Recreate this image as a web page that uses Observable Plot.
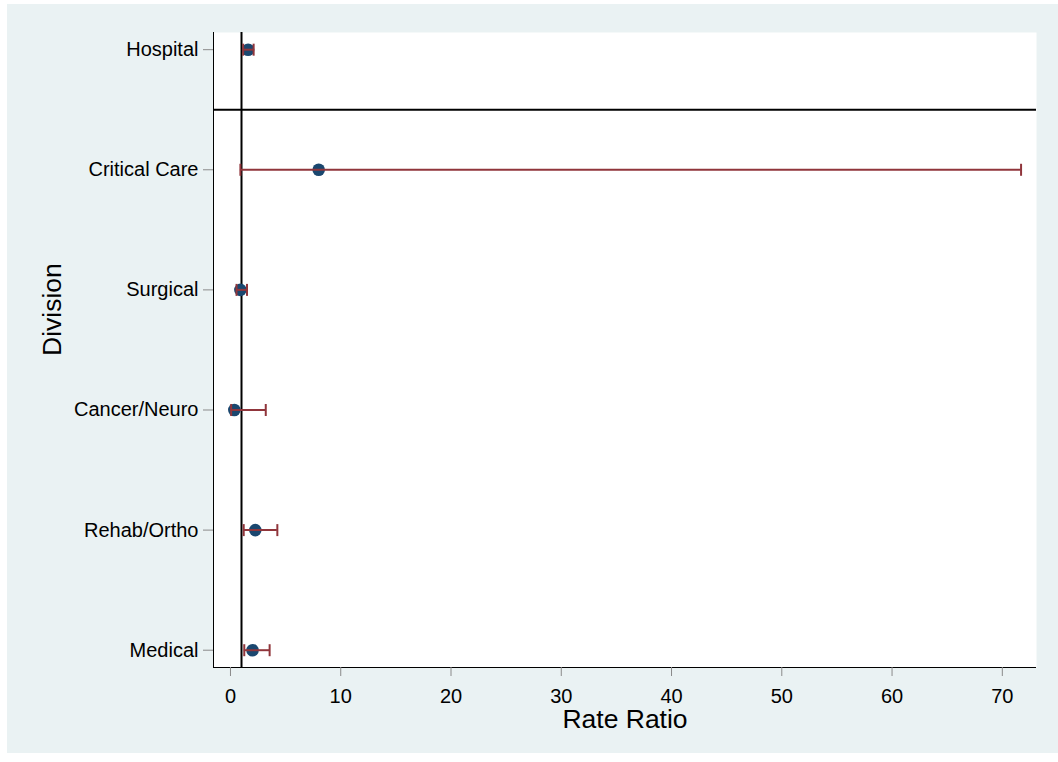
<!DOCTYPE html>
<html>
<head>
<meta charset="utf-8">
<script src="https://cdn.jsdelivr.net/npm/d3@7"></script>
<script src="https://cdn.jsdelivr.net/npm/@observablehq/plot@0.6"></script>
<style>
  html, body { margin: 0; padding: 0; background: #ffffff; }
  #chart { position: absolute; left: 7px; top: 4px; width: 1051px; height: 749px; background: #EAF2F3; }
  #chart svg { display: block; }
</style>
</head>
<body>
<div id="chart"></div>
<script>
// Rate ratios with 95% confidence limits, overall hospital first, then by division
const divisions = ["Hospital", "Critical Care", "Surgical", "Cancer/Neuro", "Rehab/Ortho", "Medical"];
const rateRatio = [1.6, 8.0, 0.9, 0.35, 2.25, 2.0];
const lowerCI   = [1.15, 0.9, 0.55, 0.06, 1.2, 1.25];
const upperCI   = [2.1, 71.7, 1.5, 3.2, 4.25, 3.55];
const xTicks = [0, 10, 20, 30, 40, 50, 60, 70];
const nullRatio = 1;

const n = divisions.length;
// rows are stacked bottom-up: last division at position 1, overall at the top
const rows = divisions.map((d, i) => ({
  division: d,
  pos: n - i,
  rr: rateRatio[i],
  lo: lowerCI[i],
  hi: upperCI[i]
}));
const positions = rows.map(r => r.pos);
const separator = n - 0.5; // between the overall estimate and the divisions

const xDomain = [-1.54, 73.1];
const yDomain = [0.856, 6.143];

// vertical bar glyph for the interval caps
const capSymbol = {
  draw(context, size) {
    const h = Math.sqrt(size / Math.PI);
    context.moveTo(0, -h);
    context.lineTo(0, h);
  }
};

const navy = "#1A476F";
const maroon = "#90353B";

const chart = Plot.plot({
  width: 1051,
  height: 749,
  marginLeft: 206,
  marginTop: 28,
  marginRight: 22,
  marginBottom: 86,
  style: { background: "transparent", fontFamily: "'Liberation Sans', Arial, sans-serif", color: "black" },
  x: { domain: xDomain, label: null },
  y: { domain: yDomain, label: null },
  marks: [
    Plot.frame({ fill: "white", stroke: null }),
    Plot.ruleX([nullRatio], { stroke: "black", strokeWidth: 2 }),
    Plot.ruleY([separator], { stroke: "black", strokeWidth: 2 }),
    Plot.ruleX([xDomain[0]], { stroke: "black", strokeWidth: 1 }),
    Plot.ruleY([yDomain[0]], { stroke: "black", strokeWidth: 1 }),
    Plot.axisX({
      ticks: xTicks, tickSize: 9, tickPadding: 12, fontSize: 20,
      stroke: "#8a8a8a", fill: "black", label: null
    }),
    Plot.axisY({
      ticks: positions, tickFormat: p => divisions[n - p],
      tickSize: 10, tickPadding: 5, fontSize: 20,
      stroke: "#8a8a8a", fill: "black", label: null
    }),
    Plot.dot(rows, { x: "rr", y: "pos", r: 6.3, fill: navy, stroke: null }),
    Plot.ruleY(rows, { y: "pos", x1: "lo", x2: "hi", stroke: maroon, strokeWidth: 2 }),
    Plot.dot(rows, { x: "lo", y: "pos", r: 6, symbol: capSymbol, stroke: maroon, strokeWidth: 2, fill: "none" }),
    Plot.dot(rows, { x: "hi", y: "pos", r: 6, symbol: capSymbol, stroke: maroon, strokeWidth: 2, fill: "none" }),
    Plot.text(["Rate Ratio"], {
      frameAnchor: "bottom", dy: 52, lineAnchor: "middle",
      fontSize: 26.5, fill: "black"
    }),
    Plot.text(["Division"], {
      frameAnchor: "left", dx: -161, dy: 6, rotate: -90, lineAnchor: "middle",
      fontSize: 26.5, fill: "black"
    })
  ]
});

document.getElementById("chart").appendChild(chart);
</script>
</body>
</html>
